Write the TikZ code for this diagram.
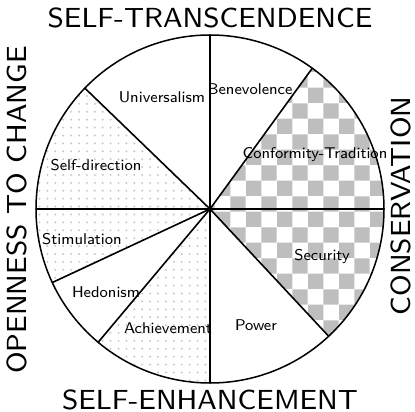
\documentclass[tikz,border=0pt]{standalone}
\usepackage{tikz}
\usetikzlibrary{patterns.meta}
\definecolor{chkgray}{HTML}{BEBEBE}
\definecolor{dotgray}{HTML}{C8C8C8}
\tikzdeclarepattern{
  name=checker,type=uncolored,
  bounding box={(0,0) and (30.8pt,30.8pt)},
  tile size={(30.8pt,30.8pt)},
  code={\fill (0,0) rectangle (15.4pt,15.4pt);
        \fill (15.4pt,15.4pt) rectangle (30.8pt,30.8pt);}
}
\tikzdeclarepattern{
  name=sparsedots,type=uncolored,
  bounding box={(-4pt,-4pt) and (4pt,4pt)},
  tile size={(7.9pt,7.9pt)},
  code={\fill (0,0) circle (1.1pt);}
}
\tikzset{
  axis/.style={font=\sffamily\fontsize{8}{10}\selectfont,inner sep=0pt,scale=3.45},
  value/.style={font=\sffamily\fontsize{8}{10}\selectfont,inner sep=0.5pt,scale=1.95},
  cut/.style={line width=1.6pt,line cap=round},
  chk/.style={pattern={checker},pattern color=chkgray},
  dts/.style={pattern={sparsedots},pattern color=dotgray},
}
\def\R{174}
\begin{document}
\begin{tikzpicture}[x=1pt,y=1pt]
  \useasboundingbox (0,0) rectangle (415,412);
  \coordinate (c) at (210,203);
  \begin{scope}[shift={(c)}]
    % filled sectors
    \fill[chk] (0,0) -- (-47:\R) arc[start angle=-47,end angle=54,radius=\R] -- cycle;
    \fill[dts] (0,0) -- (136:\R) arc[start angle=136,end angle=205,radius=\R] -- cycle;
    \fill[dts] (0,0) -- (230:\R) arc[start angle=230,end angle=270,radius=\R] -- cycle;
    % dividing lines
    \foreach \a in {90,54,0,-47,-90,-130,-155,180,136}
      \draw[cut] (0,0) -- (\a:\R);
    \draw[line width=1.5pt] (0,0) circle[radius=\R];
  \end{scope}
  % sector names
  \node[value] (univ) at (162,315) {Universalism};
  \node[value] (bene) at (250,323) {Benevolence};
  \node[value] (conf) at (315,257) {Conformity-Tradition};
  \node[value] (secu) at (322,155) {Security};
  \node[value] (powr) at (256,87) {Power};
  \node[value] (achv) at (168,84) {Achievement};
  \node[value] (hedo) at (106,120) {Hedonism};
  \node[value] (stim) at (82,173) {Stimulation};
  \node[value] (sdir) at (96,247) {Self-direction};
  % higher order groups
  \node[axis] (trans) at (210,394) {SELF-TRANSCENDENCE};
  \node[axis] (enh) at (210,12) {SELF-ENHANCEMENT};
  \node[axis,rotate=90] (open) at (17,202) {OPENNESS TO CHANGE};
  \node[axis,rotate=90] (cons) at (401,206) {CONSERVATION};
\end{tikzpicture}
\end{document}
